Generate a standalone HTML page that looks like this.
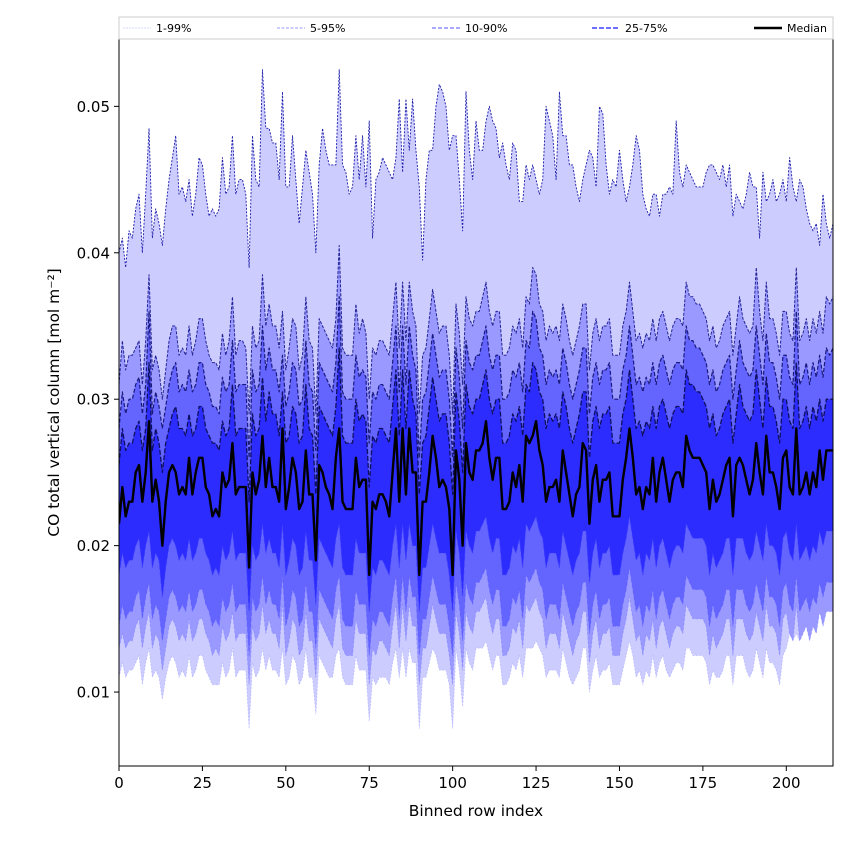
<!DOCTYPE html>
<html><head><meta charset="utf-8">
<style>
body{margin:0;background:#fff;font-family:"DejaVu Sans","Liberation Sans",sans-serif;}
svg text{font-family:"DejaVu Sans","Liberation Sans",sans-serif;}
</style></head>
<body>
<svg id="chart" width="850" height="850" xmlns="http://www.w3.org/2000/svg">
<rect width="850" height="850" fill="#fff"/>
<g id="plot"></g>
<g id="axes"></g>
<g id="legend"></g>
</svg>
<script>
const xTicks=[0,25,50,75,100,125,150,175,200];
const yTicks=[0.01,0.02,0.03,0.04,0.05];
const yTickLabels=["0.01","0.02","0.03","0.04","0.05"];
const legendLabels=["1-99%","5-95%","10-90%","25-75%","Median"];
// values in 1e-3 mol m^-2
const p50=[21.5,24,22,23,23,25,25.5,23,25,28.5,23,24.5,23,20,23,25,25.5,25,23.5,24,23.5,26,23.5,25,26,26,24,23.5,22,22.5,22,25,24,24.5,27,23.5,24,24,24,18.5,25,23.5,24.5,27.5,24,26,24,24,23,28,22.5,24,26,25,22.5,23,26.5,23.5,23.5,19,25.5,25,24,23.5,22.5,26,28,23,22.5,22.5,22.5,26,24,24.5,24.5,18,23,22.5,23.5,23.5,23,22,25,28,23,28,23.5,28,25,25,18,23,23,25,27.5,26,24,24.5,24,22.5,18,26.5,24.5,20,27,25,24.5,26.5,26.5,27,28.5,26,24.5,26,26,22.5,22.5,23,25,24,25.5,23,27.5,27,27.5,28.5,26.5,25.5,23,24,24,24.5,23,26.5,25,23.5,22,23.5,24,27,26.5,21.5,24.5,25.5,23,24.5,24.5,25,22,22,22,24.5,26,28,26,23.5,24,22.5,24,23.5,26,23,25,26,24.5,23,24.5,25,25,24,27.5,26.5,26,26,26,25.5,25,22.5,24.5,23,23.5,24.5,25.5,26,22,25.5,26,25.5,24.5,23.5,24.5,27,25,23.5,27.5,25,25,24,22.5,26,26.5,24,23.5,28,23.5,24,25,23.5,25,24,26.5,24.5,26.5,26.5,26.5];
const p99=[40,41,39,41.5,41,43,44,40,44,48.5,41,43,42,40.5,43,45,46.5,48,44,44.5,43.5,45,42.5,44,46.5,46,44,42.5,43,42.5,43,46.5,44,44.5,48,44,45,45,44,39,48,45,44.5,52.5,48.5,48.5,47.5,47.5,45,51,44.5,44.5,48,45,42,44.5,47,45.5,44,40,46,48.5,47,46,46,46,52.5,46,45.5,44,44.5,48,45,48,44.5,49,41,45,45.5,46.5,46,45.5,45,46.5,50.5,45.5,50.5,47,50.5,47,44.5,39.5,45,47,47,50,51.5,51,50,47,48,48,45,41.5,51,47,45,49,47,47,49,50,49,48.5,46.5,47.5,46,45,47.5,47,43.5,43.5,46,45,46,45,44,45,50,49,48,45,51,48,48,46,46,44.5,43.5,45,46,47,46.5,44.5,50,49.5,46,44,45,44.5,47,45,43.5,44.5,46,48,47,44,43,42.5,44,44,42.5,44,44,44.5,44,49,45.5,44.5,46,45.5,45,44.5,44.5,44.5,45.5,46,46,45.5,45,46,44.5,46,42.5,44,43.5,43,44,45.5,44.5,44.5,41,45.5,43.5,44,45,43.5,44,45,43.5,46.5,44.5,43.5,45,44.5,43,42,41.5,42,40.5,44,42,41,42,42.5,44,45,44,44.5,44.5,43.5,45];
const p95=[31,34,32,33,33,33.5,34,31,34,38.5,32,33,32,30,32,34,35,35,33,33.5,33,35,33,34,35.5,35.5,34,33,32.5,32.5,32,34.5,33,34,37,33,34,34,33.5,29,35,33.5,34,38.5,35,36.5,35,35,33.5,36,32,33.5,35.5,35,32,33,37,34,33.5,29,35.5,35,34.5,34,33.5,35.5,40.5,33.5,33,33,33,36.5,34.5,35.5,34.5,30,33.5,33,34,34,33.5,33,35.5,38,33.5,38,34,38,36,35,29,33,33.5,35.5,37.5,36,34.5,35,35,33,29,36.5,34.5,31,37,35.5,35,36,36,37,38,36,35,36,36,33,33,33.5,35,34.5,35.5,33.5,37,36.5,39,38.5,36.5,36,34,35,34.5,35,34,36.5,35.5,34,33,34,35,36.5,36.5,32,34.5,35.5,34,35,35,35.5,33,33,33,35,36,38,36,34,34.5,33.5,34.5,34,35.5,34,35.5,36,35,34,35,35.5,35.5,35,38,37,37,36.5,36.5,36,35.5,34,35,33.5,34,35,35.5,36,33,35,37,35.5,35,34.5,35,39,36,34,38,35.5,35.5,34.5,33,36,36,34.5,34,39,34,34.5,35.5,34,35.5,34.5,36,34.5,37,36.5,37];
const p90=[28,30.5,29,30,30,31,31.5,29,31,36,29,30.5,29.5,28,29.5,31,32,32.5,30.5,31,30.5,32,30.5,31,32.5,32.5,31,30.5,29.5,29.5,29,31.5,30.5,31,34,30.5,31,31,31,26,32,30.5,31,35,32,33.5,32,32,30.5,33,29.5,30.5,32.5,32,29.5,30,34,31,30.5,26.5,32.5,32,31.5,31,30.5,32.5,37,30.5,30,30,30,33,31.5,32,31.5,27,30.5,30,31,31,30.5,30,32.5,35,30.5,35,31,35,33,32,26,30,30.5,32.5,34.5,33,31.5,32,32,30,26,33.5,31.5,28,34,32.5,32,33,33,34,35,33,32,33,33,30,30,30.5,32,31.5,32.5,30.5,34,33.5,36,35.5,33.5,33,31,32,31.5,32,31,33.5,32.5,31,30,31,32,33.5,33.5,29,31.5,32.5,31,32,32,32.5,30,30,30,32,33,35,33,31,31.5,30.5,31.5,31,32.5,31,32.5,33,32,31,32,32.5,32.5,32,35,34,34,33.5,33.5,33,32.5,31,32,30.5,31,32,32.5,33,30,32,34,32.5,32,31.5,32,35,33,31,34.5,32.5,32.5,31.5,30,33,33,31.5,31,36,31,31.5,32.5,31,32.5,31.5,33,31.5,33.5,33,33.5];
const p75=[25.5,28,26.5,27,27,28,28.5,26.5,28,32.5,26.5,28,27,25,27,28,29,29.5,28,28,27.5,29,27.5,28,29.5,29.5,28,27.5,27,27,26.5,28.5,27.5,28,31,27.5,28,28,28,23,29,27.5,28,31.5,28.5,30.5,29,29,27.5,30.5,27,27.5,29.5,29,27,27.5,31,28,27.5,23.5,29.5,29,28.5,28,27.5,29.5,33.5,27.5,27,27,27,30,28.5,29,28.5,24,27.5,27,28,28,27.5,27,29.5,32,27.5,32,28,32,30,29,23.5,27,27.5,29.5,31.5,30,28.5,29,29,27,23.5,30.5,28.5,25,31,29.5,29,30,30,31,32,30,29,30,30,27,27,27.5,29,28.5,29.5,27.5,31,30.5,32.5,32,30.5,30,28,29,28.5,29,28,30.5,29.5,28,27,28,29,30.5,30.5,26,28.5,29.5,28,29,29,29.5,27,27,27,29,30,32,30,28,28.5,27.5,28.5,28,29.5,28,29.5,30,29,28,29,29.5,29.5,29,32,31,31,30.5,30.5,30,29.5,28,29,27.5,28,29,29.5,30,27,29,31,29.5,29,28.5,29,32,30,28,31.5,29.5,29.5,28.5,27,30,30,28.5,28,32.5,28,28.5,29.5,28,29.5,28.5,30,28.5,30,30,30];
const p25=[18,19.5,18.5,19,19,20,20.5,18.5,20,21,18.5,19.5,19,16.5,18.5,20,20.5,20,19,19.5,19,20.5,19,19.5,20.5,20.5,19.5,19,18,18.5,18,20,19,19.5,21,19,19.5,19.5,19.5,15.5,20,19,19.5,21.5,19.5,20.5,19.5,19.5,18.5,21.5,18,19,20.5,20,18,18.5,21,19,19,16,20.5,20,19.5,19,18.5,20.5,21.5,18.5,18,18,18,20.5,19.5,19.5,19.5,15.5,18.5,18,19,19,18.5,18,20,21.5,18.5,21.5,19,21.5,20,20,15.5,18.5,18.5,20,21.5,20.5,19.5,19.5,19.5,18,15.5,21,19.5,16.5,21,20,19.5,21,21,21.5,22,20.5,19.5,20.5,20.5,18,18,18.5,20,19.5,20.5,18.5,21.5,21,21.5,22,21,20.5,18.5,19.5,19.5,19.5,18.5,21,20,19,18,19,19.5,21,21,17.5,19.5,20.5,18.5,19.5,19.5,20,18,18,18,19.5,20.5,22,20.5,19,19.5,18,19.5,19,20.5,18.5,20,20.5,19.5,18.5,19.5,20,20,19.5,21.5,21,20.5,20.5,20.5,20.5,20,18,19.5,18.5,19,19.5,20.5,20.5,18,20.5,20.5,20.5,19.5,19,19.5,21,20,19,21.5,20,20,19.5,18,20.5,21,19.5,19,21.5,19,19.5,20,19,20,19.5,21,20,21,21,21];
const p10=[14.5,16,15,15.5,15.5,16.5,17,15,16.5,17.5,15,16,15.5,13.5,15,16.5,17,16.5,15.5,16,15.5,17,15.5,16,17,17,16,15.5,14.5,15,14.5,16.5,15.5,16,17.5,15.5,16,16,16,12.5,16.5,15.5,16,18,16,17,16,16,15,18,14.5,15.5,17,16.5,14.5,15,17.5,15.5,15.5,13,17,16.5,16,15.5,15,17,18,15,14.5,14.5,14.5,17,16,16,16,12.5,15,14.5,15.5,15.5,15,14.5,16.5,18,15,18,15.5,18,16.5,16.5,12.5,15,15,16.5,18,17,16,16,16,14.5,12.5,17.5,16,13.5,17.5,16.5,16,17.5,17.5,18,18.5,17,16,17,17,14.5,14.5,15,16.5,16,17,15,18,17.5,18,18.5,17.5,17,15,16,16,16,15,17.5,16.5,15.5,14.5,15.5,16,17.5,17.5,14,16,17,15,16,16,16.5,14.5,14.5,14.5,16,17,18.5,17,15.5,16,14.5,16,15.5,17,15,16.5,17,16,15,16,16.5,16.5,16,18,17.5,17,17,17,17,16.5,14.5,16,15,15.5,16,17,17,14.5,17,17,17,16,15.5,16,17.5,16.5,15.5,18,16.5,16.5,16,14.5,17,17.5,16,15.5,18,15.5,16,16.5,15.5,16.5,16,17.5,16.5,17.5,17.5,17.5];
const p5=[13,14,13,13.5,13.5,14.5,15,13,14.5,15.5,13,14,13.5,11.5,13,14.5,15,14.5,13.5,14,13.5,15,13.5,14,15,15,14,13.5,12.5,13,12.5,14.5,13.5,14,15.5,13.5,14,14,14,10.5,14.5,13.5,14,16,14,15,14,14,13,16,12.5,13.5,15,14.5,12.5,13,15.5,13.5,13.5,11,15,14.5,14,13.5,13,15,16,13,12.5,12.5,12.5,15,14,14,14,10.5,13,12.5,13.5,13.5,13,12.5,14.5,16,13,16,13.5,16,14.5,14.5,10.5,13,13,14.5,16,15,14,14,14,12.5,10.5,15.5,14,11.5,15.5,14.5,14,15.5,15.5,16,16.5,15,14,15,15,12.5,12.5,13,14.5,14,15,13,16,15.5,16,16.5,15.5,15,13,14,14,14,13,15.5,14.5,13.5,12.5,13.5,14,15.5,15.5,12,14,15,13,14,14,14.5,12.5,12.5,12.5,14,15,16.5,15,13.5,14,12.5,14,13.5,15,13,14.5,15,14,13,14,14.5,14.5,14,16,15.5,15,15,15,15,14.5,12.5,14,13,13.5,14,15,15,12.5,15,15,15,14,13.5,14,15.5,14.5,13.5,16,14.5,14.5,14,12.5,15,15.5,14,13.5,16,13.5,14,14.5,13.5,14.5,14,15.5,14.5,15.5,15.5,15.5];
const p1=[11,12,11,11.5,11.5,12,12.5,10.5,12,13,11,11.5,11,9.5,11,12,12.5,12,11,11.5,11,12.5,11,11.5,12.5,12.5,11.5,11,10.5,10.5,10.5,12,11,11.5,13,11,11.5,11.5,11.5,7.5,12,11,11.5,13,11.5,12.5,11.5,11.5,11,13,10.5,11,12.5,12,10.5,11,13,11,11,8.5,12.5,12,11.5,11,11,12.5,13,11,10.5,10.5,10.5,12.5,11.5,11.5,11.5,8,11,10.5,11,11,11,10.5,12,13,11,13,11,13,12,12,7.5,11,11,12,13,12.5,11.5,11.5,11.5,10.5,7.5,13,11.5,9,13,12,11.5,13,13,13,13.5,12.5,11.5,12.5,12.5,10.5,10.5,11,12,11.5,12.5,11,13,13,13,13.5,13,12.5,11,11.5,11.5,11.5,11,13,12,11,10.5,11,11.5,13,13,10,11.5,12.5,11,11.5,11.5,12,10.5,10.5,10.5,11.5,12.5,13.5,12.5,11,11.5,10.5,11.5,11,12.5,11,12,12.5,11.5,11,11.5,12,12,11.5,13,13,12.5,12.5,12.5,12.5,12,10.5,11.5,11,11,11.5,12.5,12.5,10.5,12.5,12.5,12.5,11.5,11,11.5,13,12,11,13,12,12,11.5,10.5,12.5,13,14,13.5,14,13.5,14,15,14,15.5,15.5,16,16,15.5,16,16];

const L=119,R=833,T=39,B=766,XMAX=214,YMIN=0.00495,YMAX=0.0546;
const sx=v=>L+(v/XMAX)*(R-L);
const sy=v=>B-((v*1e-3-YMIN)/(YMAX-YMIN))*(B-T);
const syAbs=v=>B-((v-YMIN)/(YMAX-YMIN))*(B-T);
const NS="http://www.w3.org/2000/svg";
const plot=document.getElementById('plot'),axes=document.getElementById('axes'),legend=document.getElementById('legend');
function mk(tag,attrs,parent){const e=document.createElementNS(NS,tag);for(const k in attrs)e.setAttribute(k,attrs[k]);parent.appendChild(e);return e;}
const clip=mk('clipPath',{id:'clp'},document.getElementById('chart'));
mk('rect',{x:L,y:T,width:R-L,height:B-T},clip);
plot.setAttribute('clip-path','url(#clp)');
function linePts(a){return a.map((v,i)=>sx(i).toFixed(2)+','+sy(v).toFixed(2));}
function band(lo,hi,color,name){
  const n=Math.min(lo.length,hi.length);
  const pts=linePts(hi.slice(0,n)).concat(linePts(lo.slice(0,n)).reverse());
  const p=mk('polygon',{points:pts.join(' '),fill:color},plot);
  
  
}
band(p1,p99,'#ccccff','band-1-99');
band(p5,p95,'#9999ff','band-5-95');
band(p10,p90,'#6464ff','band-10-90');
band(p25,p75,'#2c2cff','band-25-75');
function line(a,color,w,dash,name,op){
  const p=mk('polyline',{points:linePts(a).join(' '),fill:'none',stroke:color,'stroke-width':w,'stroke-dasharray':dash,'stroke-linejoin':'round',opacity:op},plot);
  
  
}
line(p99,'#1a1aa8',0.9,'2,1.5','line-p99',1);
line(p95,'#14148a',1,'3,1.5','line-p95',0.9);
line(p90,'#101070',1.2,'4,2','line-p90',0.9);
line(p75,'#0a0a50',1.3,'5,2','line-p75',0.9);
line(p1,'#9a9aff',0.8,'2,1.5','line-p1',0.5);
line(p5,'#7777ff',0.8,'3,1.5','line-p5',0.5);
line(p10,'#5555ff',0.9,'4,2','line-p10',0.5);
line(p25,'#3333ff',1,'5,2','line-p25',0.5);
line(p50,'#000',2.4,'none','line-median',1);

const fr=mk('rect',{x:L,y:T,width:R-L,height:B-T,fill:'none',stroke:'#000','stroke-width':1},axes);


xTicks.forEach(t=>{
  const x=sx(t);
  mk('line',{x1:x,x2:x,y1:B,y2:B+5,stroke:'#000'},axes);
  const tx=mk('text',{x:x,y:B+22,'text-anchor':'middle','font-size':'15'},axes);
  tx.textContent=t;
  
  
});
yTicks.forEach((t,i)=>{
  const y=syAbs(t);
  mk('line',{x1:L-5,x2:L,y1:y,y2:y,stroke:'#000'},axes);
  const tx=mk('text',{x:L-9,y:y+5.5,'text-anchor':'end','font-size':'15'},axes);
  tx.textContent=yTickLabels[i];
  
  
});
const xl=mk('text',{x:(L+R)/2,y:816,'text-anchor':'middle','font-size':'15.5'},axes);
xl.textContent='Binned row index';


const yl=mk('text',{x:0,y:0,'text-anchor':'middle','font-size':'15.5',transform:'translate(59,'+((T+B)/2)+') rotate(-90)'},axes);
yl.textContent='CO total vertical column [mol m⁻²]';



const lb=mk('rect',{x:L,y:17,width:R-L,height:22,fill:'#fff',stroke:'#ccc','stroke-width':1},legend);


const legX=[123,277,432,592,754];
const legStyle=[['#d8d8ff',1,'2,1'],['#9999ff',1,'3,1.5'],['#7777ff',1.3,'4,2'],['#5a5aff',1.8,'5,2'],['#000',2.4,'none']];
legendLabels.forEach((lab,i)=>{
  const g=mk('g',{},legend);
  
  
  mk('line',{x1:legX[i],x2:legX[i]+28,y1:28,y2:28,stroke:legStyle[i][0],'stroke-width':legStyle[i][1],'stroke-dasharray':legStyle[i][2]},g);
  const t=mk('text',{x:legX[i]+33,y:32,'font-size':'11'},g);
  t.textContent=lab;
});
</script>
</body></html>
